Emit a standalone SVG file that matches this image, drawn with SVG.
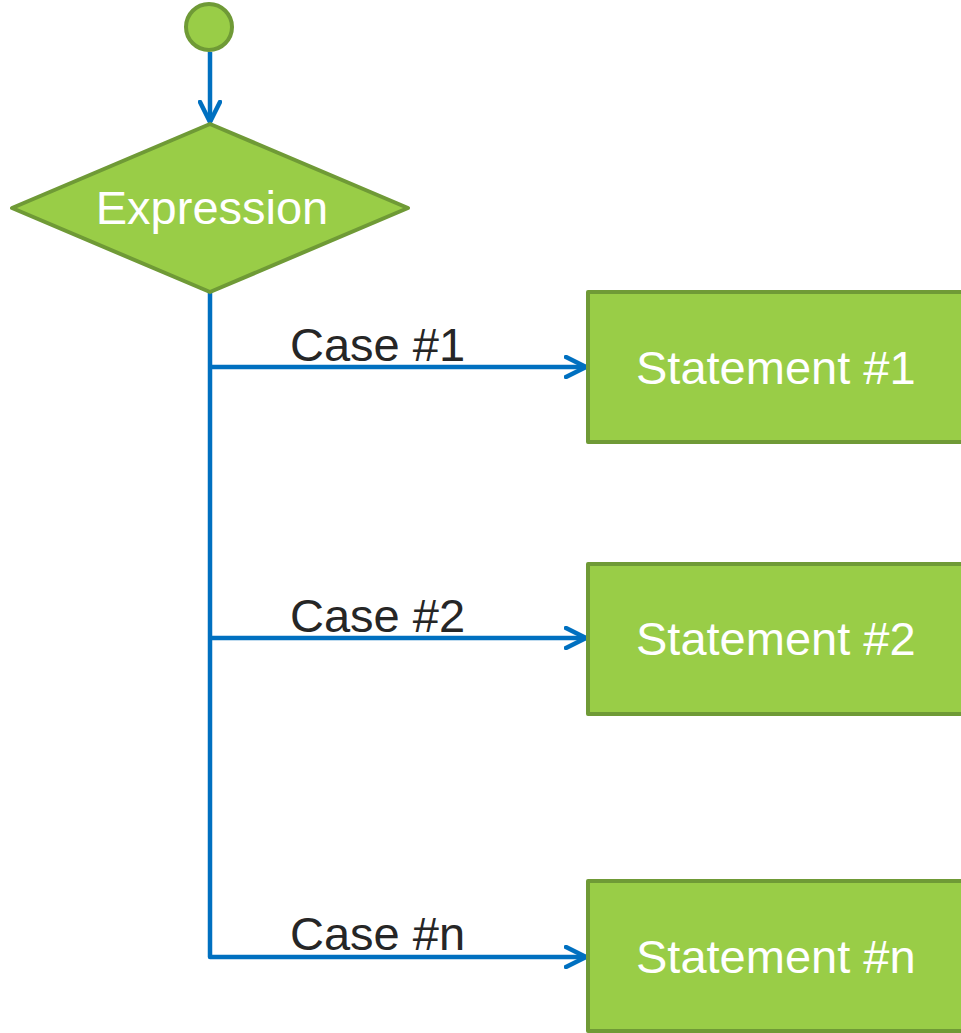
<svg xmlns="http://www.w3.org/2000/svg" width="961" height="1033" viewBox="0 0 961 1033">
  <style>
    .shape { fill: #99cd47; stroke: #6f9a36; stroke-width: 4; stroke-linejoin: round; }
    .inner { font-family: "Liberation Sans", Arial, sans-serif; font-size: 47px; fill: #ffffff; }
    .label { font-family: "Liberation Sans", Arial, sans-serif; font-size: 47px; fill: #262626; }
    .flow { fill: none; stroke: #0070c0; stroke-width: 4.5; stroke-linejoin: round; }
  </style>
  <defs>
    <marker id="arrowBig" viewBox="0 0 24 24" refX="22" refY="12" markerWidth="24" markerHeight="24" markerUnits="userSpaceOnUse" orient="auto">
      <path d="M2,2 L22,12 L2,22" fill="none" stroke="#0070c0" stroke-width="4.5" stroke-linecap="round" stroke-linejoin="round"/>
    </marker>
  </defs>

  <!-- connectors -->
  <g id="connectors">
    <line class="flow" x1="210" y1="52" x2="210" y2="122" marker-end="url(#arrowBig)"/>
    <polyline class="flow" points="210,292 210,957 586,957" marker-end="url(#arrowBig)"/>
    <line class="flow" x1="210" y1="367" x2="586" y2="367" marker-end="url(#arrowBig)"/>
    <line class="flow" x1="210" y1="638" x2="586" y2="638" marker-end="url(#arrowBig)"/>
  </g>

  <!-- case labels -->
  <g id="labels">
    <text class="label" x="290" y="361">Case #1</text>
    <text class="label" x="290" y="632">Case #2</text>
    <text class="label" x="290" y="950">Case #n</text>
  </g>

  <!-- start node -->
  <g id="start">
    <circle class="shape" cx="209" cy="27" r="23"/>
  </g>

  <!-- decision node -->
  <g id="expression">
    <polygon class="shape" points="210,124 408,208 210,292 12,208"/>
    <text class="inner" x="212" y="224" text-anchor="middle">Expression</text>
  </g>

  <!-- statement nodes -->
  <g id="statement1">
    <rect class="shape" x="588" y="292" width="420" height="150"/>
    <text class="inner" x="636" y="384">Statement #1</text>
  </g>
  <g id="statement2">
    <rect class="shape" x="588" y="564" width="420" height="150"/>
    <text class="inner" x="636" y="655">Statement #2</text>
  </g>
  <g id="statementN">
    <rect class="shape" x="588" y="881" width="420" height="150"/>
    <text class="inner" x="636" y="973">Statement #n</text>
  </g>
</svg>
